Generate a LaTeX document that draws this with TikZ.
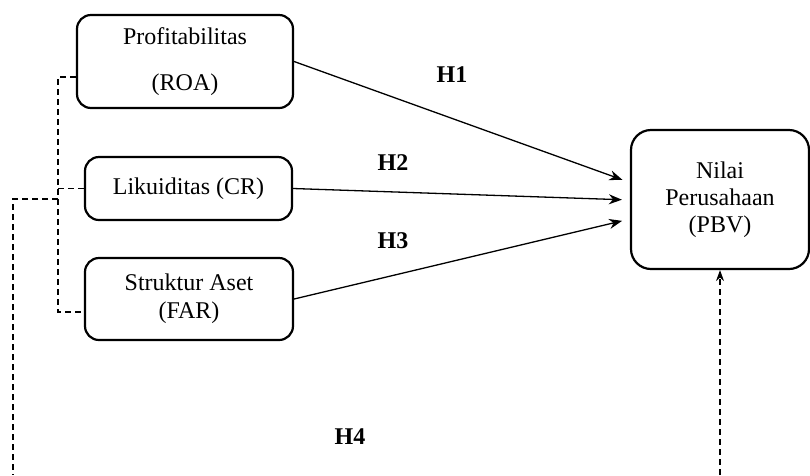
\documentclass[tikz,border=0pt]{standalone}
\usepackage{fontspec}
\setmainfont{Liberation Serif}
\usepackage{tikz}
\usetikzlibrary{positioning}
\usetikzlibrary{arrows.meta}
\tikzset{
    var/.style={draw, rectangle, rounded corners=14pt, line width=2.2pt, align=center, font=\fontsize{24}{27}\selectfont},
    hyp/.style={font=\fontsize{24}{27}\selectfont\bfseries},
    arrow/.style={line width=1.3pt,->,>={Stealth[length=13pt,width=10pt]}, shorten >=8pt},
    link/.style={line width=1.2pt, dash pattern=on 6pt off 4pt}
}
\begin{document}
\begin{tikzpicture}[x=1pt,y=-1pt]

\fill[white] (0,0) rectangle (810,475);
\useasboundingbox (0,0) rectangle (810,475);

\node [var, minimum width=216pt, minimum height=93pt]  (roa) at (185,61.5)  {Profitabilitas\\[19pt](ROA)};
\node [var, minimum width=207pt, minimum height=63pt]  (cr)  at (188.5,188.5) {Likuiditas (CR)};
\node [var, minimum width=208pt, minimum height=82pt]  (far) at (189,299)   {Struktur Aset\\[1pt](FAR)};
\node [var, rounded corners=20pt, minimum width=178pt, minimum height=139pt] (pbv) at (720,199.5) {Nilai\\Perusahaan\\(PBV)};

\node [hyp] (h1) at (452,75)  {H1};
\node [hyp] (h2) at (393,163) {H2};
\node [hyp] (h3) at (393,241) {H3};
\node [hyp] (h4) at (350,437) {H4};

\coordinate (btop) at (58,77);
\coordinate (bbot) at (58,312);
\coordinate (bmid) at (58,199);
\coordinate (lend) at (13,475);
\coordinate (rend) at (720,475);

\draw [arrow] (roa.east) -- ([yshift=17pt]pbv.west);
\draw [arrow] (cr.east)  -- ([yshift=-0.5pt]pbv.west);
\draw [arrow] (far.east) -- ([yshift=-19.5pt]pbv.west);

\draw [link] (btop -| roa.west) -- (btop) -- (bbot) -- (bbot -| far.west);
\draw [link] (cr.west) -- (cr.west -| btop);
\draw [link] (bmid) -| (lend);
\draw [link,->,>={Stealth[length=11pt,width=8pt]}] (rend) -- (pbv.south);

\end{tikzpicture}
\end{document}
